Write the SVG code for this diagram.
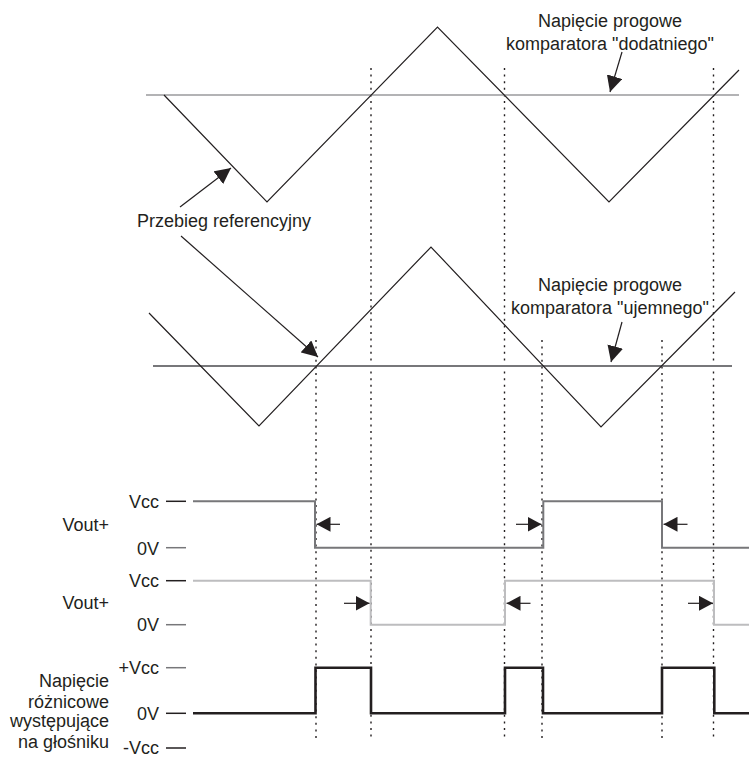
<svg xmlns="http://www.w3.org/2000/svg" width="749" height="760" viewBox="0 0 749 760">
<style>
text{font-family:"Liberation Sans",Arial,sans-serif;font-size:18px;fill:#231f20}
.end{text-anchor:end}
.mid{text-anchor:middle}
.tri{fill:none;stroke:#231f20;stroke-width:1.2}
.dot{stroke:#231f20;stroke-width:1.4;stroke-dasharray:2 4.6;fill:none}
.arr{stroke:#231f20;stroke-width:1.2;fill:none;marker-end:url(#ah)}
.sarr{stroke:#231f20;stroke-width:1.2;fill:none;marker-end:url(#sh)}
.tick{stroke-width:1.5}
</style>
<defs>
<marker id="ah" viewBox="0 0 16 16" refX="16" refY="8" markerWidth="16" markerHeight="16" markerUnits="userSpaceOnUse" orient="auto">
<path d="M0,0 L16,8 L0,16 z" fill="#231f20"/>
</marker>
<marker id="sh" viewBox="0 0 14 15" refX="14" refY="7.5" markerWidth="14" markerHeight="15" markerUnits="userSpaceOnUse" orient="auto">
<path d="M0,0 L14,7.5 L0,15 z" fill="#231f20"/>
</marker>
</defs>

<g id="dotted-guides">
<line class="dot" x1="371" y1="68" x2="371" y2="740"/>
<line class="dot" x1="504.5" y1="68" x2="504.5" y2="740"/>
<line class="dot" x1="713.5" y1="68" x2="713.5" y2="740"/>
<line class="dot" x1="316" y1="340" x2="316" y2="740"/>
<line class="dot" x1="542" y1="340" x2="542" y2="740"/>
<line class="dot" x1="662" y1="340" x2="662" y2="740"/>
</g>

<g id="threshold-positive">
<line x1="146" y1="95" x2="739" y2="95" stroke="#b3b3b5" stroke-width="2"/>
</g>
<g id="reference-wave-top">
<polyline class="tri" points="164,95 267,202 437.5,27 609,202 739,70"/>
</g>

<g id="threshold-negative">
<line x1="153" y1="366" x2="732" y2="366" stroke="#77777a" stroke-width="2"/>
</g>
<g id="reference-wave-bottom">
<polyline class="tri" points="149,313 259,426 431,247 601,427 735,292"/>
</g>

<g id="label-positive">
<text class="mid" x="610" y="27">Napięcie progowe</text>
<text class="mid" x="610" y="49.5">komparatora "dodatniego"</text>
</g>
<g id="label-negative">
<text class="mid" x="610" y="291">Napięcie progowe</text>
<text class="mid" x="610" y="313.5">komparatora "ujemnego"</text>
</g>
<g id="label-reference">
<text x="137" y="227">Przebieg referencyjny</text>
</g>

<g id="signal-vout1">
<text class="end" x="159" y="508">Vcc</text>
<text class="end" x="109" y="531">Vout+</text>
<text class="end" x="159" y="554.5">0V</text>
<line class="tick" x1="166" y1="501.3" x2="186" y2="501.3" stroke="#231f20"/>
<line class="tick" x1="166" y1="547.7" x2="186" y2="547.7" stroke="#77777a"/>
<polyline fill="none" stroke="#77777a" stroke-width="2" points="193,501.3 315,501.3 315,547.7 543.3,547.7 543.3,501.3 662,501.3 662,547.7 749,547.7"/>
</g>

<g id="signal-vout2">
<text class="end" x="159" y="587">Vcc</text>
<text class="end" x="109" y="609">Vout+</text>
<text class="end" x="159" y="631">0V</text>
<line class="tick" x1="166" y1="580.7" x2="186" y2="580.7" stroke="#231f20"/>
<line class="tick" x1="166" y1="624.7" x2="186" y2="624.7" stroke="#77777a"/>
<polyline fill="none" stroke="#bdbdbf" stroke-width="2" points="193,580.7 370.7,580.7 370.7,624.7 505,624.7 505,580.7 714,580.7 714,624.7 749,624.7"/>
</g>

<g id="signal-differential">
<text class="end" x="109" y="687">Napięcie</text>
<text class="end" x="109" y="707.5">różnicowe</text>
<text class="end" x="109" y="727">występujące</text>
<text class="end" x="109" y="747.5">na głośniku</text>
<text class="end" x="159" y="673.5">+Vcc</text>
<text class="end" x="159" y="719.5">0V</text>
<text class="end" x="159" y="754">-Vcc</text>
<line class="tick" x1="166" y1="667.7" x2="186" y2="667.7" stroke="#77777a"/>
<line class="tick" x1="166" y1="713.3" x2="186" y2="713.3" stroke="#231f20"/>
<line class="tick" x1="166" y1="748" x2="186" y2="748" stroke="#231f20"/>
<polyline fill="none" stroke="#231f20" stroke-width="2.6" points="193,713.3 315.5,713.3 315.5,667.7 371,667.7 371,713.3 505,713.3 505,667.7 543,667.7 543,713.3 662,713.3 662,667.7 714.3,667.7 714.3,713.3 749,713.3"/>
</g>

<g id="connectors">
<line class="arr" x1="622" y1="52" x2="610" y2="92"/>
<line class="arr" x1="622" y1="322" x2="611" y2="362"/>
<line class="arr" x1="180" y1="207" x2="231" y2="168"/>
<line class="arr" x1="181" y1="236" x2="318" y2="357"/>
<line class="sarr" x1="340" y1="524.3" x2="316.5" y2="524.3"/>
<line class="sarr" x1="516" y1="524.3" x2="541.5" y2="524.3"/>
<line class="sarr" x1="687.5" y1="524.3" x2="663.5" y2="524.3"/>
<line class="sarr" x1="344" y1="603.3" x2="369.5" y2="603.3"/>
<line class="sarr" x1="530.5" y1="603.3" x2="506.5" y2="603.3"/>
<line class="sarr" x1="688" y1="603.3" x2="713" y2="603.3"/>
</g>
</svg>
